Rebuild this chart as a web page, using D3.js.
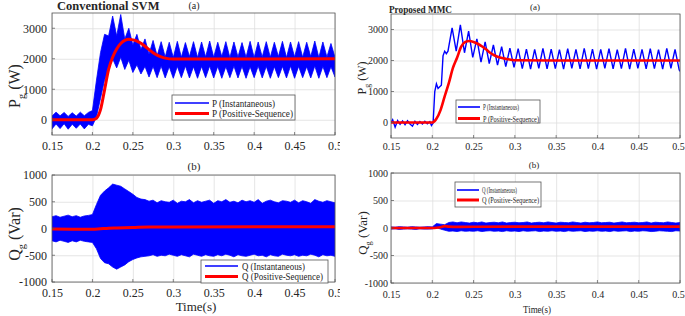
<!DOCTYPE html>
<html>
<head>
<meta charset="utf-8">
<script src="https://cdn.jsdelivr.net/npm/d3@7/dist/d3.min.js"></script>
<style>
  body { margin: 0; background: #fff; }
  svg text { font-family: "Liberation Serif", "Times New Roman", serif !important; fill: #262626; }
</style>
</head>
<body>
<script>
// sample grid for the switching-ripple envelopes (s)
const tGrid = [
  0.150,0.155,0.160,0.165,0.170,0.175,0.180,0.185,0.190,0.195,
  0.200,0.205,0.210,0.215,0.220,0.225,0.230,0.235,0.240,0.245,
  0.250,0.255,0.260,0.265,0.270,0.275,0.280,0.285,0.290,0.295,
  0.300,0.305,0.310,0.315,0.320,0.325,0.330,0.335,0.340,0.345,
  0.350,0.355,0.360,0.365,0.370,0.375,0.380,0.385,0.390,0.395,
  0.400,0.405,0.410,0.415,0.420,0.425,0.430,0.435,0.440,0.445,
  0.450,0.455,0.460,0.465,0.470,0.475,0.480,0.485,0.490,0.495,
  0.500];

// Conventional SVM, P instantaneous envelope (W)
const svmPUpper = [
  120,250,130,240,110,230,120,250,130,240,
  300,1300,2200,2800,2750,3400,2750,3450,2650,3000,
  2450,2800,2300,2650,2150,2600,2100,2560,2060,2540,
  2040,2570,2050,2530,2070,2560,2040,2550,2060,2580,
  2050,2540,2070,2560,2040,2550,2060,2530,2050,2570,
  2040,2550,2060,2560,2050,2540,2070,2570,2040,2550,
  2060,2560,2050,2540,2070,2580,2040,2550,2060,2500,
  2050];
const svmPLower = [
  -300,-140,-290,-130,-310,-150,-280,-140,-300,-150,
  -200,100,700,1300,1650,2000,1700,2050,1650,1950,
  1550,1800,1500,1750,1400,1750,1380,1760,1370,1740,
  1360,1750,1380,1760,1370,1740,1360,1750,1380,1760,
  1370,1750,1360,1740,1380,1760,1370,1750,1360,1740,
  1380,1760,1370,1750,1360,1740,1380,1750,1370,1760,
  1360,1750,1380,1740,1370,1760,1360,1750,1380,1740,
  1400];

// Conventional SVM, Q instantaneous envelope (Var)
const svmQUpper = [
  220,240,210,230,250,220,240,210,235,245,
  260,450,620,700,760,830,810,790,740,690,
  640,580,550,540,510,530,480,520,500,490,
  530,470,510,500,540,480,520,490,510,530,
  470,520,500,540,490,510,480,530,500,520,
  490,540,470,510,530,500,480,520,510,490,
  530,480,520,500,470,540,510,490,520,500,
  480];
const svmQLower = [
  -230,-250,-220,-240,-260,-230,-250,-220,-240,-250,
  -260,-380,-560,-640,-660,-720,-760,-720,-680,-620,
  -580,-550,-530,-520,-510,-490,-520,-500,-510,-480,
  -500,-520,-490,-510,-530,-480,-500,-520,-490,-510,
  -520,-490,-510,-480,-500,-530,-490,-510,-520,-500,
  -480,-510,-500,-530,-490,-510,-520,-480,-500,-510,
  -490,-520,-500,-510,-480,-500,-530,-490,-510,-500,
  -520];

// Proposed MMC, Q instantaneous envelope (Var)
const mmcQUpper = [
  20,15,25,20,15,25,20,15,20,25,
  20,80,70,60,100,110,95,110,100,90,
  105,95,110,90,100,105,95,110,90,100,
  105,95,100,110,90,100,105,95,110,100,
  90,105,100,95,110,100,90,105,95,100,
  110,95,100,105,90,100,110,95,100,105,
  95,100,110,90,105,100,95,110,100,90,
  100];
const mmcQLower = [
  -20,-15,-25,-20,-15,-20,-25,-15,-20,-20,
  -15,10,-20,-40,-60,-55,-65,-50,-60,-55,
  -60,-50,-65,-55,-50,-60,-55,-65,-50,-60,
  -55,-65,-50,-60,-55,-50,-65,-55,-60,-50,
  -60,-55,-65,-50,-60,-55,-50,-65,-55,-60,
  -50,-60,-55,-65,-50,-60,-55,-50,-65,-55,
  -60,-50,-55,-65,-60,-50,-55,-60,-65,-50,
  -55];

// Proposed MMC, P instantaneous (W)
const mmcPT = [
  0.150,0.152,0.155,0.158,0.161,0.164,0.167,0.170,0.173,0.176,0.179,0.182,0.185,0.188,0.191,0.194,0.197,0.199,0.201,
  0.203,0.205,0.207,0.209,0.211,0.213,0.215,0.217,0.219,
  0.224,0.229,0.234,0.239,0.244,0.249,0.254,0.259,0.264,0.269,0.274,0.279,0.284,0.289,0.294,0.299,
  0.304,0.309,0.314,0.319,0.324,0.329,0.334,0.339,0.344,0.349,
  0.354,0.359,0.364,0.369,0.374,0.379,0.384,0.389,0.394,0.399,
  0.404,0.409,0.414,0.419,0.424,0.429,0.434,0.439,0.444,0.449,
  0.454,0.459,0.464,0.469,0.474,0.479,0.484,0.489,0.494,0.499,0.500];
const mmcP = [
  0,90,-150,60,-60,50,-70,60,-50,-120,40,-60,30,-50,40,-40,30,-100,-20,
  1000,1250,1100,1150,1200,2150,2300,2220,2300,
  3050,2300,3150,2250,2950,2100,2700,1950,2600,1900,2500,1850,2450,1800,2400,1780,
  2380,1740,2370,1720,2360,1750,2390,1730,2370,1740,
  2350,1720,2380,1750,2360,1730,2390,1740,2370,1720,
  2360,1750,2380,1730,2350,1740,2390,1720,2370,1750,
  2360,1730,2380,1740,2350,1720,2390,1750,2360,1700,1650];

// positive-sequence curves
const svmPosT = [0.15,0.2,0.205,0.21,0.215,0.22,0.225,0.23,0.235,0.24,0.245,0.25,0.255,0.26,0.265,0.27,0.275,0.28,0.285,0.29,0.3,0.35,0.5];
const svmPos  = [0,0,50,330,980,1650,2050,2320,2500,2600,2640,2620,2580,2510,2410,2300,2200,2120,2060,2020,1990,1990,2000];
const mmcPosT = [0.15,0.2,0.205,0.21,0.215,0.22,0.225,0.23,0.235,0.24,0.245,0.25,0.255,0.26,0.265,0.27,0.275,0.28,0.29,0.3,0.35,0.5];
const mmcPos  = [0,0,120,400,840,1270,1760,2090,2450,2600,2630,2600,2540,2460,2360,2250,2170,2110,2050,2010,2000,2000];
const svmQPosT = [0.15,0.2,0.21,0.22,0.23,0.25,0.27,0.3,0.5];
const svmQPos  = [-10,-15,-5,5,10,20,30,30,35];
const mmcQPosT = [0.15,0.2,0.205,0.21,0.215,0.22,0.23,0.25,0.3,0.5];
const mmcQPos  = [0,0,5,15,35,25,20,22,25,25];

const xTicks = [0.15,0.2,0.25,0.3,0.35,0.4,0.45,0.5];
const pTicks = [0,1000,2000,3000];
const qTicks = [-1000,-500,0,500,1000];

const svg = d3.select("body").append("svg")
    .attr("width", 685)
    .attr("height", 316);

const zip = (t, v) => t.map((d, i) => [d, v[i]]);
const zipBand = (t, lo, hi) => t.map((d, i) => [d, lo[i], hi[i]]);
const plain = d => String(d);

let clipId = 0;
function panel(g, o) {
  const x = d3.scaleLinear().domain([0.15, 0.5]).range([o.x0, o.x1]);
  const y = d3.scaleLinear().domain(o.yDomain).range([o.y1, o.y0]);
  const w = o.x1 - o.x0, h = o.y1 - o.y0;

  // grid + tick labels
  const ax = g.append("g")
      .attr("transform", `translate(0,${o.y1})`)
      .call(d3.axisBottom(x).tickValues(xTicks).tickFormat(plain).tickSize(-h).tickPadding(o.xPad));
  const ay = g.append("g")
      .attr("transform", `translate(${o.x0},0)`)
      .call(d3.axisLeft(y).tickValues(o.yTicks).tickFormat(plain).tickSize(-w).tickPadding(o.yPad));
  [ax, ay].forEach(a => {
    a.attr("font-family", null).attr("font-size", null);
    a.select(".domain").remove();
    a.selectAll("line").attr("stroke", "#dedede").attr("stroke-width", 0.8);
    a.selectAll("text").attr("font-size", o.fs).attr("fill", "#262626");
  });
  // last x label sits against the right edge
  ax.selectAll("text").filter(d => d === 0.5).attr("dx", o.lastDx || 0);

  const id = "clip" + (clipId++);
  g.append("clipPath").attr("id", id).append("rect")
      .attr("x", o.x0).attr("y", o.y0).attr("width", w).attr("height", h);
  const plot = g.append("g").attr("clip-path", `url(#${id})`);

  if (o.band) {
    plot.append("path")
        .datum(o.band)
        .attr("fill", "#0000ff")
        .attr("stroke", "#0000ff")
        .attr("stroke-width", 0.8)
        .attr("d", d3.area().x(d => x(d[0])).y0(d => y(d[1])).y1(d => y(d[2])));
  }
  if (o.inst) {
    plot.append("path")
        .datum(o.inst)
        .attr("fill", "none")
        .attr("stroke", "#0000ff")
        .attr("stroke-width", 1.4)
        .attr("d", d3.line().x(d => x(d[0])).y(d => y(d[1])));
  }
  plot.append("path")
      .datum(o.pos)
      .attr("fill", "none")
      .attr("stroke", "#ff0000")
      .attr("stroke-width", o.redW)
      .attr("d", d3.line().curve(d3.curveMonotoneX).x(d => x(d[0])).y(d => y(d[1])));

  // small inward ticks on the box
  g.append("g").selectAll("line").data(xTicks).join("line")
      .attr("x1", d => x(d)).attr("x2", d => x(d))
      .attr("y1", o.y1).attr("y2", o.y1 - 3)
      .attr("stroke", "#555").attr("stroke-width", 0.7);
  g.append("g").selectAll("line").data(o.yTicks).join("line")
      .attr("x1", o.x0).attr("x2", o.x0 + 3)
      .attr("y1", d => y(d)).attr("y2", d => y(d))
      .attr("stroke", "#555").attr("stroke-width", 0.7);

  g.append("rect")
      .attr("x", o.x0).attr("y", o.y0).attr("width", w).attr("height", h)
      .attr("fill", "none").attr("stroke", "#555").attr("stroke-width", 0.8);

  // legend
  const L = o.legend;
  const lg = g.append("g");
  lg.append("rect")
      .attr("x", L.x0).attr("y", L.y0).attr("width", L.x1 - L.x0).attr("height", L.y1 - L.y0)
      .attr("fill", "#fff").attr("stroke", "#555").attr("stroke-width", 0.8);
  L.labels.forEach((lab, i) => {
    lg.append("line")
        .attr("x1", L.lx0).attr("x2", L.lx1)
        .attr("y1", L.rows[i]).attr("y2", L.rows[i])
        .attr("stroke", i ? "#ff0000" : "#0000ff")
        .attr("stroke-width", i ? 3 : 1.6);
    lg.append("text")
        .attr("x", L.tx).attr("y", L.rows[i])
        .attr("dy", "0.35em")
        .attr("font-size", L.fs)
        .attr("textLength", L.lens[i])
        .attr("lengthAdjust", "spacingAndGlyphs")
        .text(lab);
  });

  // y label with subscript
  const yl = g.append("text")
      .attr("transform", `translate(${o.yl[0]},${o.yl[1]}) rotate(-90)`)
      .attr("text-anchor", "middle")
      .attr("font-size", o.ylFs);
  yl.append("tspan").text(o.ylSym);
  yl.append("tspan").attr("font-size", o.ylFs * 0.65).attr("dy", o.ylFs * 0.3).text("g");
  yl.append("tspan").attr("dy", -o.ylFs * 0.3).attr("dx", o.ylFs * 0.25).text(o.ylUnit);
}

// left figure is cut at the join with the right one
svg.append("clipPath").attr("id", "leftFig").append("rect")
    .attr("x", 0).attr("y", 0).attr("width", 340).attr("height", 316);
const left = svg.append("g").attr("clip-path", "url(#leftFig)");
const right = svg.append("g");

panel(left, {
  x0: 52, x1: 335, y0: 13, y1: 135, yDomain: [-500, 3500], yTicks: pTicks,
  fs: 12, xPad: 6.5, yPad: 5, redW: 3,
  band: zipBand(tGrid, svmPLower, svmPUpper), pos: zip(svmPosT, svmPos),
  legend: {x0: 172, x1: 295, y0: 95, y1: 120, lx0: 175, lx1: 209, tx: 212, rows: [103, 113.5],
           fs: 10, lens: [63, 81], labels: ["P (Instantaneous)", "P (Positive-Sequence)"]},
  yl: [20, 86], ylFs: 16, ylSym: "P", ylUnit: "(W)"
});
panel(left, {
  x0: 52, x1: 335, y0: 175, y1: 282, yDomain: [-1000, 1000], yTicks: qTicks,
  fs: 12, xPad: 6.5, yPad: 5, redW: 3,
  band: zipBand(tGrid, svmQLower, svmQUpper), pos: zip(svmQPosT, svmQPos),
  legend: {x0: 201, x1: 328, y0: 260, y1: 283, lx0: 205, lx1: 238, tx: 242, rows: [266, 276.5],
           fs: 10, lens: [63, 81], labels: ["Q (Instantaneous)", "Q (Positive-Sequence)"]},
  yl: [20, 234], ylFs: 16, ylSym: "Q", ylUnit: "(Var)"
});
panel(right, {
  x0: 391, x1: 680, y0: 14, y1: 138, yDomain: [-500, 3500], yTicks: pTicks,
  fs: 10, xPad: 5, yPad: 3, redW: 2.6, lastDx: -2,
  inst: zip(mmcPT, mmcP), pos: zip(mmcPosT, mmcPos),
  legend: {x0: 456, x1: 540, y0: 100, y1: 123, lx0: 458, lx1: 480, tx: 483, rows: [107, 118.5],
           fs: 9, lens: [36, 56], labels: ["P (Instantaneous)", "P (Positive-Sequence)"]},
  yl: [366, 78], ylFs: 12, ylSym: "P", ylUnit: "(W)"
});
panel(right, {
  x0: 391, x1: 680, y0: 173, y1: 283, yDomain: [-1000, 1000], yTicks: qTicks,
  fs: 10, xPad: 8, yPad: 3, redW: 2.6, lastDx: -2,
  band: zipBand(tGrid, mmcQLower, mmcQUpper), pos: zip(mmcQPosT, mmcQPos),
  legend: {x0: 455, x1: 541, y0: 182, y1: 207, lx0: 457, lx1: 479, tx: 482, rows: [190, 200],
           fs: 9, lens: [35, 57], labels: ["Q (Instantaneous)", "Q (Positive-Sequence)"]},
  yl: [367, 233], ylFs: 13, ylSym: "Q", ylUnit: "(Var)"
});

// titles and captions
left.append("text").attr("x", 57).attr("y", 10).attr("font-size", 12.5)
    .attr("font-weight", "bold").attr("fill", "#000").text("Conventional SVM");
left.append("text").attr("x", 194).attr("y", 9).attr("font-size", 10)
    .attr("text-anchor", "middle").text("(a)");
left.append("text").attr("x", 194).attr("y", 170).attr("font-size", 11)
    .attr("text-anchor", "middle").text("(b)");
left.append("text").attr("x", 196).attr("y", 311).attr("font-size", 13)
    .attr("text-anchor", "middle").text("Time(s)");

right.append("text").attr("x", 389).attr("y", 13).attr("font-size", 11)
    .attr("font-weight", "bold").attr("fill", "#000")
    .attr("textLength", 63).attr("lengthAdjust", "spacingAndGlyphs").text("Proposed MMC");
right.append("text").attr("x", 535).attr("y", 10).attr("font-size", 9)
    .attr("text-anchor", "middle").text("(a)");
right.append("text").attr("x", 534).attr("y", 168).attr("font-size", 9)
    .attr("text-anchor", "middle").text("(b)");
right.append("text").attr("x", 523).attr("y", 313).attr("font-size", 11)
    .attr("textLength", 28).attr("lengthAdjust", "spacingAndGlyphs").text("Time(s)");
</script>
</body>
</html>
